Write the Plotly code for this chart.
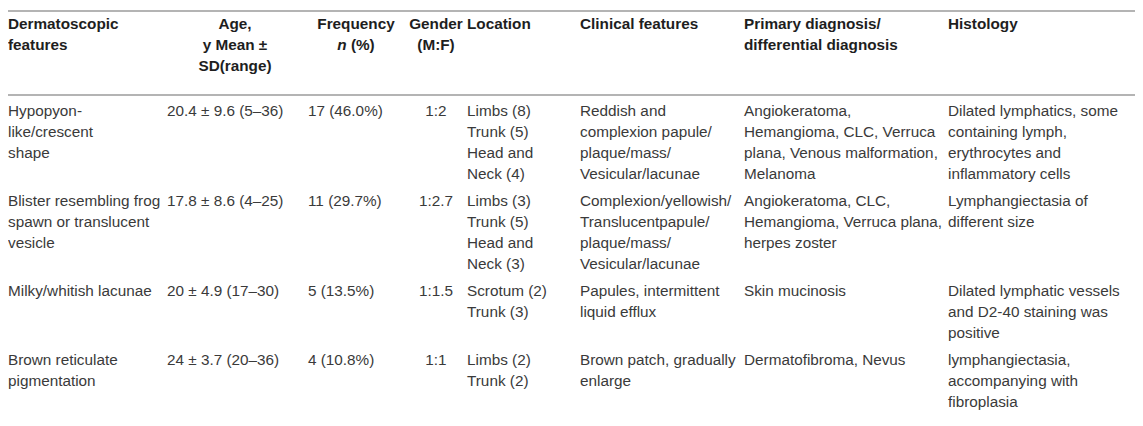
import plotly.graph_objects as go

# conteudo da tabela (quebras de linha como na figura)
cabecalhos = [
    "Dermatoscopic<br>features",
    "Age,<br>y Mean ±<br>SD(range)",
    "Frequency<br><i>n</i> (%)",
    "Gender<br>(M:F)",
    "Location",
    "Clinical features",
    "Primary diagnosis/<br>differential diagnosis",
    "Histology",
]

caracteristicas = [
    "Hypopyon-<br>like/crescent<br>shape",
    "Blister resembling frog<br>spawn or translucent<br>vesicle",
    "Milky/whitish lacunae",
    "Brown reticulate<br>pigmentation",
]
idades = ["20.4 ± 9.6 (5–36)", "17.8 ± 8.6 (4–25)", "20 ± 4.9 (17–30)", "24 ± 3.7 (20–36)"]
frequencias = ["17 (46.0%)", "11 (29.7%)", "5 (13.5%)", "4 (10.8%)"]
generos = ["1:2", "1:2.7", "1:1.5", "1:1"]
locais = [
    "Limbs (8)<br>Trunk (5)<br>Head and<br>Neck (4)",
    "Limbs (3)<br>Trunk (5)<br>Head and<br>Neck (3)",
    "Scrotum (2)<br>Trunk (3)",
    "Limbs (2)<br>Trunk (2)",
]
clinica = [
    "Reddish and<br>complexion papule/<br>plaque/mass/<br>Vesicular/lacunae",
    "Complexion/yellowish/<br>Translucentpapule/<br>plaque/mass/<br>Vesicular/lacunae",
    "Papules, intermittent<br>liquid efflux",
    "Brown patch, gradually<br>enlarge",
]
diagnosticos = [
    "Angiokeratoma,<br>Hemangioma, CLC, Verruca<br>plana, Venous malformation,<br>Melanoma",
    "Angiokeratoma, CLC,<br>Hemangioma, Verruca plana,<br>herpes zoster",
    "Skin mucinosis",
    "Dermatofibroma, Nevus",
]
histologia = [
    "Dilated lymphatics, some<br>containing lymph,<br>erythrocytes and<br>inflammatory cells",
    "Lymphangiectasia of<br>different size",
    "Dilated lymphatic vessels<br>and D2-40 staining was<br>positive",
    "lymphangiectasia,<br>accompanying with<br>fibroplasia",
]

colunas = [caracteristicas, idades, frequencias, generos, locais, clinica, diagnosticos, histologia]

# posicao x de cada coluna (texto a esquerda sai ~8px depois do ponto)
pos_cabecalho = [(0, 'left'), (227, 'center'), (348, 'center'), (428, 'center'),
                 (459, 'left'), (572, 'left'), (736, 'left'), (940, 'left')]
pos_corpo = [(0, 'left'), (159, 'left'), (300, 'left'), (428, 'center'),
             (459, 'left'), (572, 'left'), (736, 'left'), (940, 'left')]

largura = 1143
altura = 426
fonte = 'Liberation Sans, Arial, sans-serif'
tamanho = 15.3

fig = go.Figure()


def adiciona_texto(x0, alinhamento, linhas, ys, cor, negrito):
    pos = 'middle right' if alinhamento == 'left' else 'middle center'
    textos = [f'<b>{t}</b>' if negrito else t for t in linhas]
    fig.add_trace(go.Scatter(
        x=[x0] * len(linhas),
        y=ys,
        mode='text',
        text=textos,
        textposition=pos,
        textfont=dict(family=fonte, size=tamanho, color=cor),
        cliponaxis=False,
        hoverinfo='skip',
        showlegend=False
    ))


# cabecalho
for cab, (x0, al) in zip(cabecalhos, pos_cabecalho):
    linhas = cab.split('<br>')
    ys = [17 + 21 * i for i in range(len(linhas))]
    adiciona_texto(x0, al, linhas, ys, '#1e1e1e', True)

# corpo
espaco = 21
folga = 6
y_linha = 104
for r in range(len(caracteristicas)):
    n_linhas = max(len(col[r].split('<br>')) for col in colunas)
    for col, (x0, al) in zip(colunas, pos_corpo):
        linhas = col[r].split('<br>')
        ys = [y_linha + espaco * i for i in range(len(linhas))]
        adiciona_texto(x0, al, linhas, ys, '#3a3a3a', False)
    y_linha += espaco * n_linhas + folga

# linhas horizontais
for y_reg in [3, 87, 423]:
    fig.add_shape(type='line', x0=0, x1=largura, y0=y_reg, y1=y_reg,
                  xref='x', yref='y', line=dict(color='#b4b4b4', width=2))

fig.update_layout(
    width=largura,
    height=altura,
    margin=dict(l=0, r=0, t=0, b=0),
    plot_bgcolor='white',
    paper_bgcolor='white',
    xaxis=dict(range=[0, largura], visible=False, fixedrange=True),
    yaxis=dict(range=[altura, 0], visible=False, fixedrange=True),
)

fig.write_html("out.html")
